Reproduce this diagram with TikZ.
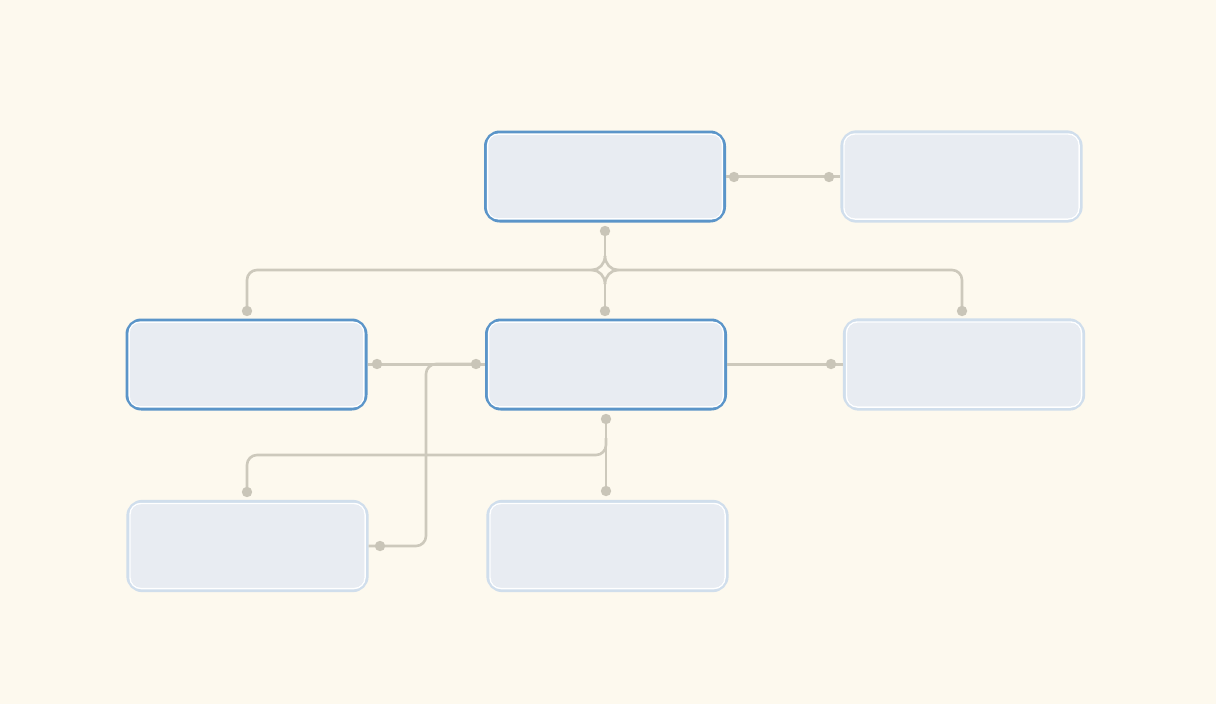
\documentclass[tikz,border=0pt]{standalone}
\definecolor{bg}{HTML}{FDF9EE}
\definecolor{boxfill}{HTML}{E8ECF2}
\definecolor{strongedge}{HTML}{5B95C9}
\definecolor{softedge}{HTML}{D0DEEC}
\definecolor{wire}{HTML}{CDC9BC}
\definecolor{dotc}{HTML}{C9C5B8}
\begin{document}
\begin{tikzpicture}[x=1pt,y=-1pt,
  card/.style={rounded corners=14pt, fill=boxfill, minimum width=238.5pt, minimum height=88.5pt, inner sep=0pt},
  strong/.style={card, draw=strongedge, line width=3.5pt},
  soft/.style={card, draw=softedge, line width=3.8pt},
  innerline/.style={draw=white, line width=1.4pt, rounded corners=11pt},
  wireline/.style={draw=wire, line width=2.6pt},
  dotmark/.style={fill=dotc}
]
\fill[bg] (0,0) rectangle (1216,704);
\useasboundingbox (0,0) rectangle (1216,704);

% boxes
\node[strong] (A) at (605,176.5) {};
\node[soft]   (B) at (961.5,176.5) {};
\node[strong] (C) at (246.5,364.5) {};
\node[strong] (D) at (606,364.5) {};
\node[soft]   (E) at (964,364.5) {};
\node[soft]   (F) at (247.5,546) {};
\node[soft]   (G) at (607.5,546) {};
\foreach \n in {A,B,C,D,E,F,G}
  \draw[innerline] ([shift={(3.6pt,-3.6pt)}]\n.north west) rectangle ([shift={(-3.6pt,3.6pt)}]\n.south east);

% dot coordinates
\coordinate (Ar) at (734,177);
\coordinate (Bl) at (829,177);
\coordinate (Ab) at (605,231);
\coordinate (Dt) at (605,311);
\coordinate (Ct) at (247,311);
\coordinate (Et) at (962,311);
\coordinate (Cr) at (377,364);
\coordinate (Dl) at (476,364);
\coordinate (El) at (831,364);
\coordinate (Db) at (606,419);
\coordinate (Gt) at (606,491);
\coordinate (Ft) at (247,492);
\coordinate (Fr) at (380,546);
% junction
\coordinate (Jn) at (605,256);
\coordinate (Js) at (605,284);
\coordinate (Jw) at (592,270);
\coordinate (Je) at (618,270);

% connectors
\draw[wireline] (A.east) -- (B.west);
\draw[wireline] (Ab) -- (Jn);
\draw[wireline] (Js) -- (Dt);
\draw[wireline, rounded corners=10pt] (Jw) -- (247,270) -- (Ct);
\draw[wireline, rounded corners=10pt] (Je) -- (962,270) -- (Et);
\draw[wireline] (Jn) .. controls (605,263.7) and (599.2,270) .. (Jw);
\draw[wireline] (Jn) .. controls (605,263.7) and (610.8,270) .. (Je);
\draw[wireline] (Js) .. controls (605,276.3) and (599.2,270) .. (Jw);
\draw[wireline] (Js) .. controls (605,276.3) and (610.8,270) .. (Je);
\draw[wireline] (C.east) -- (D.west);
\draw[wireline, rounded corners=10pt] (Dl) -- (426,364) -- (426,546) -- (Fr) -- (F.east);
\draw[wireline] (D.east) -- (E.west);
\draw[wireline] (Db) -- (Gt);
\draw[wireline, rounded corners=10pt] (606,438) -- (606,455) -- (247,455) -- (Ft);

% dots
\foreach \p in {Ar,Bl,Ab,Dt,Ct,Et,Cr,Dl,El,Db,Gt,Ft,Fr}
  \fill[dotmark] (\p) circle (5.2pt);
\end{tikzpicture}
\end{document}
